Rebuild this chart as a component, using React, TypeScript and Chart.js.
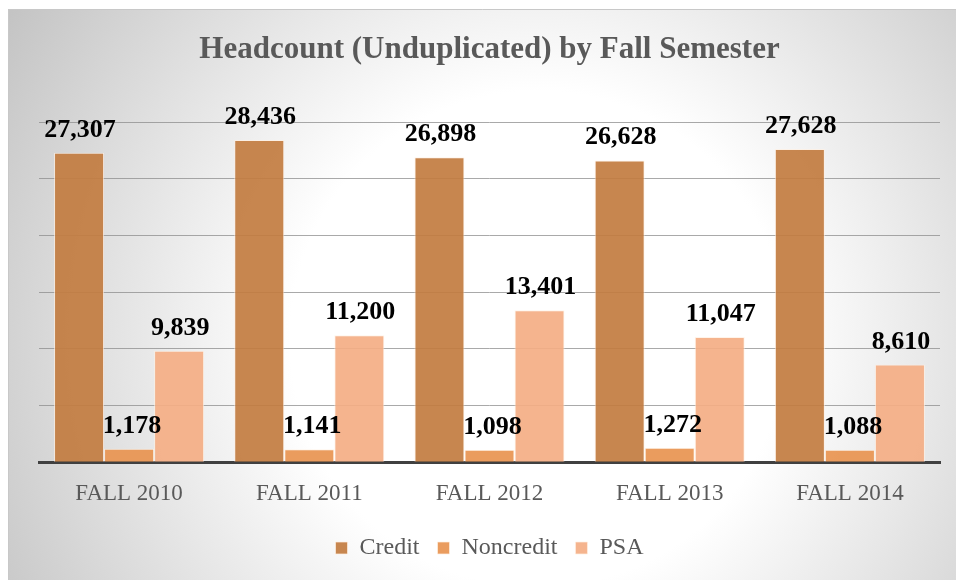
import React, { useEffect, useRef } from "react";
import { Chart, registerables } from "chart.js";

Chart.register(...registerables);

const categories = ["FALL 2010", "FALL 2011", "FALL 2012", "FALL 2013", "FALL 2014"];
const creditValues = [27307, 28436, 26898, 26628, 27628];
const noncreditValues = [1178, 1141, 1098, 1272, 1088];
const psaValues = [9839, 11200, 13401, 11047, 8610];
const seriesNames = ["Credit", "Noncredit", "PSA"];
const chartTitle = "Headcount (Unduplicated) by Fall Semester";

const SERIF = "'Liberation Serif', 'Times New Roman', serif";

const backgroundPlugin = {
  id: "bgPlugin",
  beforeDraw(chart: any) {
    const { ctx, width, height } = chart;
    ctx.save();
    const g = ctx.createRadialGradient(530, 330, 0, 530, 330, 620);
    g.addColorStop(0, "#ffffff");
    g.addColorStop(0.4, "#ffffff");
    g.addColorStop(1, "#c4c4c4");
    ctx.fillStyle = g;
    ctx.fillRect(0, 0, width, height);
    ctx.strokeStyle = "#c8c8c8";
    ctx.lineWidth = 1;
    ctx.beginPath();
    ctx.moveTo(0.5, height);
    ctx.lineTo(0.5, 0.5);
    ctx.lineTo(width, 0.5);
    ctx.stroke();
    ctx.restore();
  },
};

const labelPlugin = {
  id: "valueLabels",
  afterDatasetsDraw(chart: any) {
    const { ctx } = chart;
    ctx.save();
    ctx.font = `bold 26px ${SERIF}`;
    ctx.fillStyle = "#000000";
    ctx.textAlign = "center";
    ctx.textBaseline = "alphabetic";
    chart.data.datasets.forEach((ds: any, i: number) => {
      const meta = chart.getDatasetMeta(i);
      meta.data.forEach((el: any, j: number) => {
        const v = ds.data[j] as number;
        ctx.fillText(v.toLocaleString("en-US"), el.x + (i === 1 ? 3 : 1), el.y - 16);
      });
    });
    ctx.restore();
  },
};

export default function App() {
  const ref = useRef<HTMLCanvasElement | null>(null);
  useEffect(() => {
    if (!ref.current) return;
    const chart = new Chart(ref.current, {
      type: "bar",
      data: {
        labels: categories,
        datasets: [
          {
            label: seriesNames[0],
            data: creditValues,
            backgroundColor: "rgba(194,124,64,0.92)",
            borderColor: "rgba(255,240,225,0.7)",
            borderWidth: 1,
          },
          {
            label: seriesNames[1],
            data: noncreditValues,
            backgroundColor: "rgba(232,148,80,0.92)",
            borderColor: "rgba(255,240,225,0.7)",
            borderWidth: 1,
          },
          {
            label: seriesNames[2],
            data: psaValues,
            backgroundColor: "rgba(244,174,132,0.92)",
            borderColor: "rgba(255,240,225,0.7)",
            borderWidth: 1,
          },
        ],
      },
      options: {
        animation: false,
        responsive: false,
        maintainAspectRatio: false,
        layout: { padding: { left: 31, right: 16, top: 0, bottom: 10 } },
        datasets: { bar: { categoryPercentage: 0.833, barPercentage: 1 } },
        plugins: {
          title: {
            display: true,
            text: chartTitle,
            color: "#595959",
            font: { family: SERIF, size: 31, weight: "bold" },
            padding: { top: 22, bottom: 54 },
          },
          legend: {
            position: "bottom",
            labels: {
              boxWidth: 12,
              boxHeight: 12,
              padding: 18,
              color: "#595959",
              font: { family: SERIF, size: 24 },
            },
          },
          tooltip: { enabled: false },
        },
        scales: {
          x: {
            grid: { display: false, drawTicks: false },
            border: { display: true, color: "#404040", width: 3 },
            ticks: {
              color: "#595959",
              font: { family: SERIF, size: 23, lineHeight: 0.6 },
              padding: 25,
            },
            afterFit: (scale: any) => {
              scale.height = scale.height - 8;
            },
          },
          y: {
            min: 0,
            max: 30000,
            ticks: { display: false, stepSize: 5000 },
            grid: { color: "rgba(140,140,140,0.75)", lineWidth: 1, drawTicks: false },
            border: { display: false },
          },
        },
      },
      plugins: [backgroundPlugin, labelPlugin],
    });
    return () => chart.destroy();
  }, []);
  return (
    <div style={{ position: "absolute", left: 8, top: 9, width: 948, height: 571 }}>
      <canvas ref={ref} width={948} height={571} style={{ display: "block" }} />
    </div>
  );
}
